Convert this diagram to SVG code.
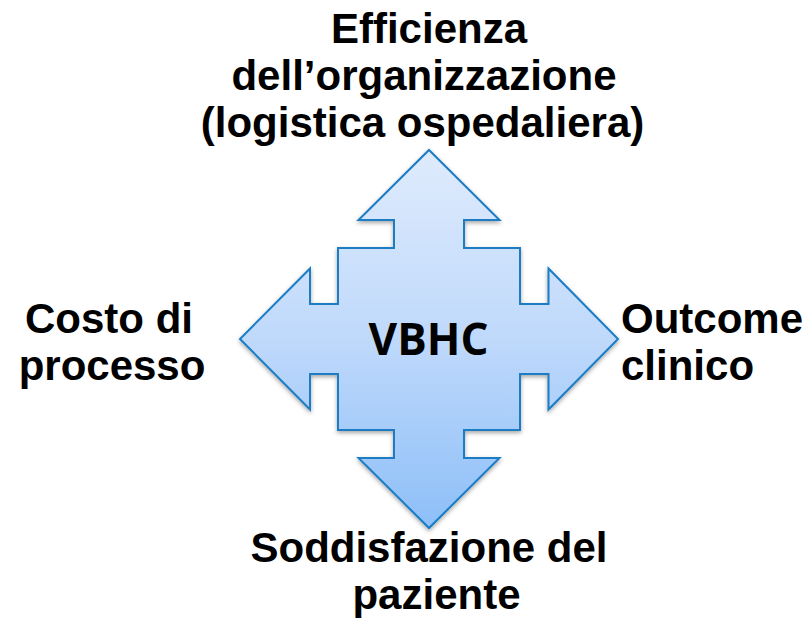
<svg xmlns="http://www.w3.org/2000/svg" width="807" height="628" viewBox="0 0 807 628">
  <defs>
    <linearGradient id="fillGrad" x1="0" y1="150" x2="0" y2="528" gradientUnits="userSpaceOnUse">
      <stop offset="0" stop-color="#dfebfc"/>
      <stop offset="0.5" stop-color="#bfd9fb"/>
      <stop offset="1" stop-color="#8dbff8"/>
    </linearGradient>
    <filter id="shadow" x="-10%" y="-10%" width="120%" height="120%">
      <feDropShadow dx="0" dy="2" stdDeviation="2" flood-color="#000" flood-opacity="0.35"/>
    </filter>
  </defs>
  <style>
    .lbl { font-family: "Liberation Sans", Arial, sans-serif; font-weight: bold; font-size: 42px; fill: #000; }
    .center { font-family: "Open Sans", "Liberation Sans", sans-serif; font-weight: bold; font-size: 44px; fill: #000; }
    .arrow { fill: url(#fillGrad); stroke: #1b7cc4; stroke-width: 2; stroke-linejoin: miter; }
  </style>
  <rect width="807" height="628" fill="#ffffff"/>
  <g id="quad-arrow">
    <path class="arrow" filter="url(#shadow)" d="M429,150 L499.5,220 L464,220 L464,248 L520,248 L520,304 L548.5,304 L548.5,268.5 L618,339 L548.5,409.5 L548.5,374 L520,374 L520,430 L464,430 L464,458 L499.5,458 L429,528 L358.5,458 L394,458 L394,430 L338,430 L338,374 L310,374 L310,409.5 L240,339 L310,268.5 L310,304 L338,304 L338,248 L394,248 L394,220 L358.5,220 Z"/>
    <text class="center" x="428.5" y="355" text-anchor="middle">VBHC</text>
  </g>
  <g id="label-top">
    <text class="lbl" x="429" y="43" text-anchor="middle">Efficienza</text>
    <text class="lbl" x="424" y="90" text-anchor="middle">dell’organizzazione</text>
    <text class="lbl" x="422.5" y="137" text-anchor="middle">(logistica ospedaliera)</text>
  </g>
  <g id="label-left">
    <text class="lbl" x="109" y="333" text-anchor="middle">Costo di</text>
    <text class="lbl" x="112" y="380" text-anchor="middle">processo</text>
  </g>
  <g id="label-right">
    <text class="lbl" x="621" y="333">Outcome</text>
    <text class="lbl" x="621" y="380">clinico</text>
  </g>
  <g id="label-bottom">
    <text class="lbl" x="429" y="562" text-anchor="middle">Soddisfazione del</text>
    <text class="lbl" x="436.5" y="609" text-anchor="middle">paziente</text>
  </g>
  <g id="connectors"/>
</svg>
